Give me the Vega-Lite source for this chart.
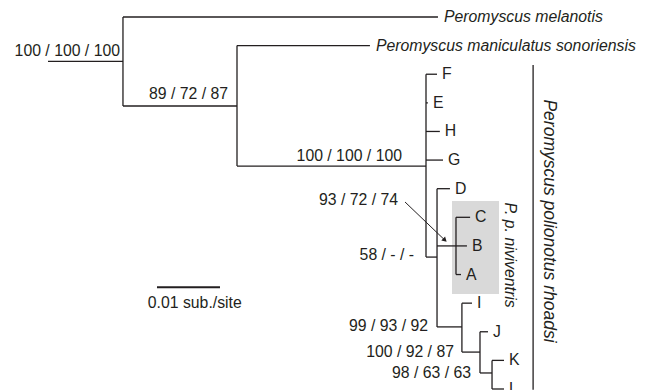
{
  "$schema": "https://vega.github.io/schema/vega-lite/v6.json",
  "width": 654,
  "height": 390,
  "padding": 0,
  "autosize": {"type": "none"},
  "background": "white",
  "config": {"view": {"stroke": null}, "text": {"font": "Liberation Sans", "fontSize": 15.8, "color": "#231f20"}},
  "datasets": {
    "branches": [
      {"x": 0, "x2": 11.9, "y": 1.55, "y2": 1.55},
      {"x": 11.9, "x2": 61.9, "y": 0, "y2": 0},
      {"x": 11.9, "x2": 30.0, "y": 3.11, "y2": 3.11},
      {"x": 30.0, "x2": 51.1, "y": 1, "y2": 1},
      {"x": 30.0, "x2": 60.0, "y": 5.21, "y2": 5.21},
      {"x": 60.0, "x2": 61.75, "y": 2, "y2": 2},
      {"x": 60.0, "x2": 60.3, "y": 3, "y2": 3},
      {"x": 60.0, "x2": 62.2, "y": 4, "y2": 4},
      {"x": 60.0, "x2": 62.7, "y": 5, "y2": 5},
      {"x": 60.0, "x2": 61.75, "y": 8.39, "y2": 8.39},
      {"x": 61.75, "x2": 63.8, "y": 6, "y2": 6},
      {"x": 61.75, "x2": 64.76, "y": 8, "y2": 8},
      {"x": 64.76, "x2": 67.0, "y": 7, "y2": 7},
      {"x": 64.76, "x2": 66.5, "y": 8, "y2": 8},
      {"x": 64.76, "x2": 65.56, "y": 9, "y2": 9},
      {"x": 61.75, "x2": 65.7, "y": 10.83, "y2": 10.83},
      {"x": 65.7, "x2": 67.3, "y": 10, "y2": 10},
      {"x": 65.7, "x2": 68.57, "y": 11.71, "y2": 11.71},
      {"x": 68.57, "x2": 69.84, "y": 11, "y2": 11},
      {"x": 68.57, "x2": 70.48, "y": 12.44, "y2": 12.44},
      {"x": 70.48, "x2": 72.38, "y": 12, "y2": 12},
      {"x": 70.48, "x2": 72.38, "y": 13, "y2": 13},
      {"x": 11.9, "x2": 11.9, "y": 0, "y2": 3.11},
      {"x": 30.0, "x2": 30.0, "y": 1, "y2": 5.21},
      {"x": 60.0, "x2": 60.0, "y": 2, "y2": 8.39},
      {"x": 61.75, "x2": 61.75, "y": 6, "y2": 10.83},
      {"x": 64.76, "x2": 64.76, "y": 7, "y2": 9},
      {"x": 65.7, "x2": 65.7, "y": 10, "y2": 11.71},
      {"x": 68.57, "x2": 68.57, "y": 11, "y2": 12.44},
      {"x": 70.48, "x2": 70.48, "y": 12, "y2": 13},
      {"x": 77.0, "x2": 77.0, "y": 1.68, "y2": 13.03}
    ],
    "tips": [
      {"name": "Peromyscus melanotis", "x": 61.9, "y": 0, "species": true},
      {"name": "Peromyscus maniculatus sonoriensis", "x": 51.1, "y": 1, "species": true},
      {"name": "F", "x": 61.75, "y": 2, "species": false},
      {"name": "E", "x": 60.3, "y": 3, "species": false},
      {"name": "H", "x": 62.2, "y": 4, "species": false},
      {"name": "G", "x": 62.7, "y": 5, "species": false},
      {"name": "D", "x": 63.8, "y": 6, "species": false},
      {"name": "C", "x": 67.0, "y": 7, "species": false},
      {"name": "B", "x": 66.5, "y": 8, "species": false},
      {"name": "A", "x": 65.56, "y": 9, "species": false},
      {"name": "I", "x": 67.3, "y": 10, "species": false},
      {"name": "J", "x": 69.84, "y": 11, "species": false},
      {"name": "K", "x": 72.38, "y": 12, "species": false},
      {"name": "L", "x": 72.38, "y": 13, "species": false}
    ],
    "support": [
      {"label": "100 / 100 / 100", "x": 11.43, "y": 1.19},
      {"label": "89 / 72 / 87", "x": 28.57, "y": 2.69},
      {"label": "100 / 100 / 100", "x": 56.19, "y": 4.86},
      {"label": "93 / 72 / 74", "x": 55.56, "y": 6.4},
      {"label": "58 / - / -", "x": 58.1, "y": 8.32},
      {"label": "99 / 93 / 92", "x": 60.32, "y": 10.8},
      {"label": "100 / 92 / 87", "x": 64.44, "y": 11.71},
      {"label": "98 / 63 / 63", "x": 67.14, "y": 12.44}
    ],
    "species_group": [{"label": "Peromyscus polionotus rhoadsi", "x": 79.5, "y": 7.13}],
    "subspecies_group": [{"label": "P. p. niviventris", "x": 73.3, "y": 8.32}],
    "box": [{"x": 64.13, "x2": 71.59, "y": 6.43, "y2": 9.68}],
    "arrow": [{"x": 56.67, "x2": 63.0, "y": 6.465, "y2": 7.8}],
    "scalebar": [{"x": 17.3, "x2": 27.3, "y": 9.44, "label": "0.01 sub./site", "lx": 23.3, "ly": 10.0}]
  },
  "layer": [
    {
      "data": {"name": "box"},
      "mark": {"type": "rect", "color": "#d9d9d9"},
      "encoding": {
        "x": {"field": "x", "type": "quantitative", "scale": {"domain": [-7.619, 96.19], "nice": false, "zero": false}, "axis": null},
        "x2": {"field": "x2"},
        "y": {"field": "y", "type": "quantitative", "scale": {"domain": [-0.594, 13.035], "reverse": true, "nice": false, "zero": false}, "axis": null},
        "y2": {"field": "y2"}
      }
    },
    {
      "data": {"name": "branches"},
      "mark": {"type": "rule", "color": "#231f20", "strokeWidth": 1.3},
      "encoding": {
        "x": {"field": "x", "type": "quantitative"},
        "x2": {"field": "x2"},
        "y": {"field": "y", "type": "quantitative"},
        "y2": {"field": "y2"}
      }
    },
    {
      "data": {"name": "scalebar"},
      "mark": {"type": "rule", "color": "#231f20", "strokeWidth": 2},
      "encoding": {
        "x": {"field": "x", "type": "quantitative"},
        "x2": {"field": "x2"},
        "y": {"field": "y", "type": "quantitative"}
      }
    },
    {
      "data": {"name": "scalebar"},
      "mark": {"type": "text", "align": "center", "baseline": "middle"},
      "encoding": {
        "x": {"field": "lx", "type": "quantitative"},
        "y": {"field": "ly", "type": "quantitative"},
        "text": {"field": "label"}
      }
    },
    {
      "data": {"name": "arrow"},
      "mark": {"type": "rule", "color": "#231f20", "strokeWidth": 1},
      "encoding": {
        "x": {"field": "x", "type": "quantitative"},
        "x2": {"field": "x2"},
        "y": {"field": "y", "type": "quantitative"},
        "y2": {"field": "y2"}
      }
    },
    {
      "data": {"name": "arrow"},
      "mark": {"type": "point", "shape": "triangle-right", "filled": true, "color": "#231f20", "size": 30, "angle": 44, "opacity": 1},
      "encoding": {
        "x": {"field": "x2", "type": "quantitative"},
        "y": {"field": "y2", "type": "quantitative"}
      }
    },
    {
      "data": {"name": "tips"},
      "transform": [{"filter": "datum.species"}],
      "mark": {"type": "text", "align": "left", "baseline": "middle", "dx": 6, "fontStyle": "italic"},
      "encoding": {
        "x": {"field": "x", "type": "quantitative"},
        "y": {"field": "y", "type": "quantitative"},
        "text": {"field": "name"}
      }
    },
    {
      "data": {"name": "tips"},
      "transform": [{"filter": "!datum.species"}],
      "mark": {"type": "text", "align": "left", "baseline": "middle", "dx": 5},
      "encoding": {
        "x": {"field": "x", "type": "quantitative"},
        "y": {"field": "y", "type": "quantitative"},
        "text": {"field": "name"}
      }
    },
    {
      "data": {"name": "support"},
      "mark": {"type": "text", "align": "right", "baseline": "middle"},
      "encoding": {
        "x": {"field": "x", "type": "quantitative"},
        "y": {"field": "y", "type": "quantitative"},
        "text": {"field": "label"}
      }
    },
    {
      "data": {"name": "species_group"},
      "mark": {"type": "text", "align": "center", "baseline": "middle", "angle": 90, "fontStyle": "italic", "fontSize": 17.5},
      "encoding": {
        "x": {"field": "x", "type": "quantitative"},
        "y": {"field": "y", "type": "quantitative"},
        "text": {"field": "label"}
      }
    },
    {
      "data": {"name": "subspecies_group"},
      "mark": {"type": "text", "align": "center", "baseline": "middle", "angle": 90, "fontStyle": "italic"},
      "encoding": {
        "x": {"field": "x", "type": "quantitative"},
        "y": {"field": "y", "type": "quantitative"},
        "text": {"field": "label"}
      }
    }
  ]
}
